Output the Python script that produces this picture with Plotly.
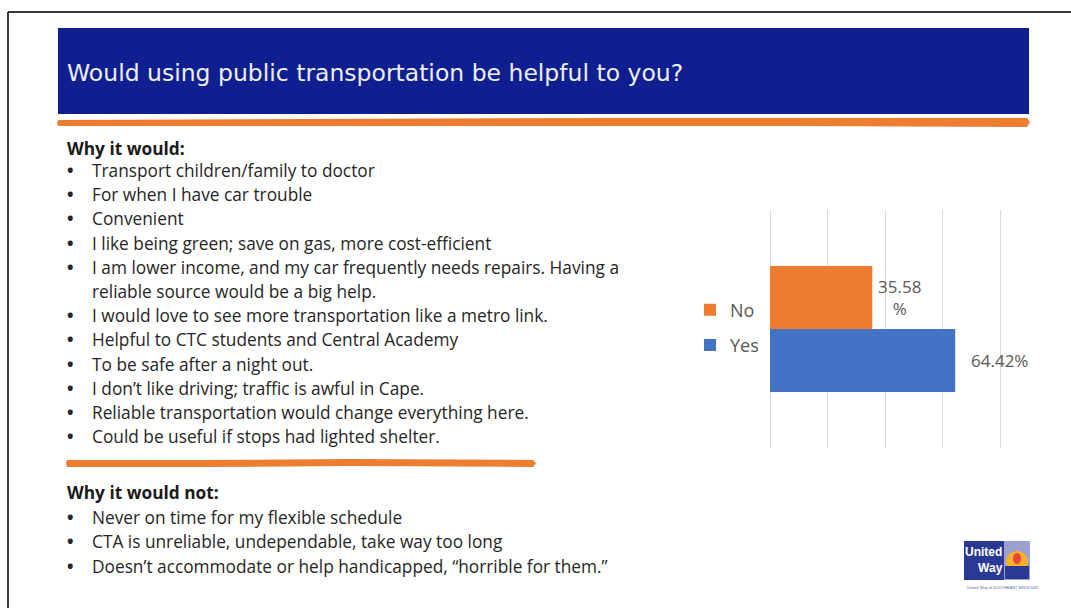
import plotly.graph_objects as go

W, H = 1071, 608

# ---------------- data ----------------
title_text = "Would using public transportation be helpful to you?"
responses = ["No", "Yes"]
percentages = [35.58, 64.42]
label_texts = ["35.58<br>%", "64.42%"]
category = ["Helpful"]
x_ticks = [0, 20, 40, 60, 80]

why_would_heading = "Why it would:"
why_would = [
    "Transport children/family to doctor",
    "For when I have car trouble",
    "Convenient",
    "I like being green; save on gas, more cost-efficient",
    "I am lower income, and my car frequently needs repairs. Having a\nreliable source would be a big help.",
    "I would love to see more transportation like a metro link.",
    "Helpful to CTC students and Central Academy",
    "To be safe after a night out.",
    "I don\u2019t like driving; traffic is awful in Cape.",
    "Reliable transportation would change everything here.",
    "Could be useful if stops had lighted shelter.",
]
why_not_heading = "Why it would not:"
why_not = [
    "Never on time for my flexible schedule",
    "CTA is unreliable, undependable, take way too long",
    "Doesn\u2019t accommodate or help handicapped, \u201chorrible for them.\u201d",
]

colors = {"No": "#ED7D31", "Yes": "#4472C4"}

BODY_FONT = "Open Sans, Lato, Calibri, sans-serif"


def px(x):
    return x / W


def py(y):
    return 1 - y / H


fig = go.Figure()

# Yes first so it is drawn at the bottom of the group; legend ranks put No on top
for name in ["Yes", "No"]:
    i = responses.index(name)
    fig.add_trace(go.Bar(
        y=category, x=[percentages[i]], name=name, orientation="h",
        legendgroup=name, legendrank=i + 1,
        marker=dict(color=colors[name], line=dict(width=0)),
        hoverinfo="x+name",
    ))

shapes = []
annotations = []

# slide border
shapes.append(dict(type="line", xref="paper", yref="paper", x0=px(8), x1=px(1071), y0=py(12), y1=py(12),
                   line=dict(color="#3A3A3A", width=2)))
shapes.append(dict(type="line", xref="paper", yref="paper", x0=px(8), x1=px(8), y0=py(12), y1=py(608),
                   line=dict(color="#3A3A3A", width=2)))

# title bar
shapes.append(dict(type="rect", xref="paper", yref="paper", x0=px(58), x1=px(1029), y0=py(114), y1=py(28),
                   fillcolor="#101F90", line=dict(width=0), layer="below"))
annotations.append(dict(xref="paper", yref="paper", x=px(65), y=py(73), xanchor="left", yanchor="middle",
                        text=title_text, showarrow=False,
                        font=dict(family="DejaVu Sans, Liberation Sans, Arial", size=23.5, color="#EEF0FA")))


def brush(pts):
    d = "M " + " L ".join(f"{px(a):.5f},{py(b):.5f}" for a, b in pts) + " Z"
    return dict(type="path", xref="paper", yref="paper", path=d, fillcolor="#ED7D31",
                line=dict(width=0), layer="below")


shapes.append(brush([(58, 120), (300, 119), (600, 118), (900, 118), (1027, 118), (1030, 122),
                     (1027, 127), (800, 126), (500, 126), (200, 126), (58, 126), (57, 123)]))
shapes.append(brush([(67, 460), (200, 460), (350, 459), (533, 460), (536, 463),
                     (533, 467), (350, 466), (200, 467), (67, 467), (66, 463)]))

text_font = dict(family=BODY_FONT, size=17.3, color="#262626")
bold_font = dict(family=BODY_FONT, size=17.3, color="#1A1A1A")


def add_list(heading, items, y_head, y_first, step):
    annotations.append(dict(xref="paper", yref="paper", x=px(65), y=py(y_head), xanchor="left",
                            yanchor="middle", text="<b>" + heading + "</b>", showarrow=False, font=bold_font))
    y = y_first
    for item in items:
        lines = item.split("\n")
        annotations.append(dict(xref="paper", yref="paper", x=px(65), y=py(y), xanchor="left",
                                yanchor="middle", text="<b>\u2022</b>", showarrow=False, font=text_font))
        for ln in lines:
            annotations.append(dict(xref="paper", yref="paper", x=px(90), y=py(y), xanchor="left",
                                    yanchor="middle", text=ln, showarrow=False, font=text_font))
            y += step


add_list(why_would_heading, why_would, 148, 170.5, 24.2)
add_list(why_not_heading, why_not, 492, 517, 24.5)

# data labels
shifts = {"No": (4, 31.5), "Yes": (14, -31.5)}
for name, val, lab in zip(responses, percentages, label_texts):
    xs, ys = shifts[name]
    annotations.append(dict(xref="x", yref="y", x=val, y=category[0], xanchor="left", yanchor="middle",
                            xshift=xs, yshift=ys, text=lab, showarrow=False, align="center",
                            font=dict(family=BODY_FONT, size=17, color="#595959")))

# United Way logo
shapes.append(dict(type="rect", xref="paper", yref="paper", x0=px(964), x1=px(1004), y0=py(580), y1=py(541),
                   fillcolor="#2A3A94", line=dict(width=0)))
shapes.append(dict(type="rect", xref="paper", yref="paper", x0=px(1004), x1=px(1030), y0=py(580), y1=py(541),
                   fillcolor="#9AA0D0", line=dict(width=0)))
shapes.append(dict(type="circle", xref="paper", yref="paper", x0=px(1006), x1=px(1028), y0=py(573), y1=py(551),
                   fillcolor="#F6B128", line=dict(width=0)))
shapes.append(dict(type="rect", xref="paper", yref="paper", x0=px(1005), x1=px(1029), y0=py(579), y1=py(566),
                   fillcolor="#2A3A94", line=dict(width=0)))
shapes.append(dict(type="circle", xref="paper", yref="paper", x0=px(1013), x1=px(1021), y0=py(564), y1=py(553),
                   fillcolor="#E8473A", line=dict(width=0)))
annotations.append(dict(xref="paper", yref="paper", x=px(984), y=py(560), xanchor="center", yanchor="middle",
                        text="<b>United<br>Way</b>", showarrow=False, align="right",
                        font=dict(family="Liberation Sans Narrow, Liberation Sans", size=12, color="#FFFFFF")))
annotations.append(dict(xref="paper", yref="paper", x=px(965), y=py(587), xanchor="left", yanchor="middle",
                        text="United Way of SOUTHEAST MISSOURI", showarrow=False,
                        font=dict(family="Liberation Sans", size=4, color="#5A6AB0")))

# x axis: 0..80 spans pixels 770..1000; pad one unit each side so edge gridlines are drawn
PPU = (1000 - 770) / 80.0
fig.update_layout(
    width=W, height=H,
    margin=dict(l=0, r=0, t=0, b=0),
    paper_bgcolor="white", plot_bgcolor="white",
    barmode="group", bargap=0.47, bargroupgap=0,
    showlegend=True,
    legend=dict(x=px(690), y=py(327.5), xanchor="left", yanchor="middle", traceorder="grouped",
                tracegroupgap=9,
                font=dict(family=BODY_FONT, size=18, color="#595959"),
                bgcolor="rgba(0,0,0,0)", itemclick=False, itemdoubleclick=False),
    xaxis=dict(domain=[px(770 - PPU), px(1000 + PPU)], range=[-1, 81], tickvals=x_ticks, showticklabels=False,
               showgrid=True, gridcolor="#D9D9D9", gridwidth=1, zeroline=False, showline=False, fixedrange=True),
    yaxis=dict(domain=[py(448), py(210)], showticklabels=False, showgrid=False, zeroline=False,
               showline=False, fixedrange=True),
    shapes=shapes, annotations=annotations,
)

fig.write_html("out.html", post_script="document.body.style.margin='0';",
               config={"displayModeBar": False})
